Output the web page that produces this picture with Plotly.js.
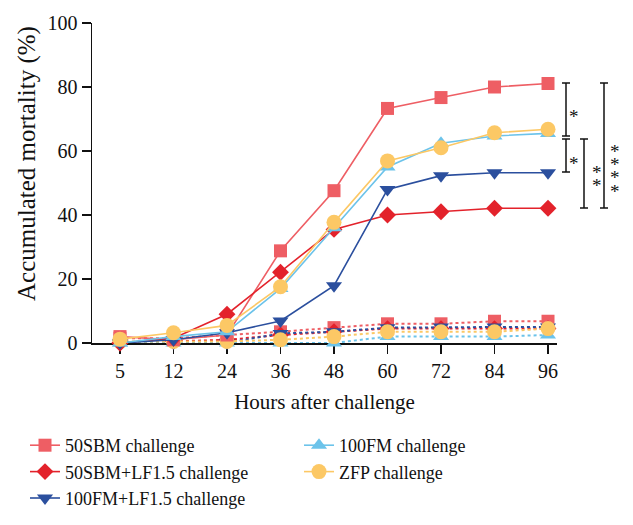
<!DOCTYPE html>
<html>
<head>
<meta charset="utf-8">
<script src="https://cdn.plot.ly/plotly-3.0.1.min.js"></script>
<style>html,body{margin:0;padding:0;background:#fff;}#chart{width:633px;height:525px;}</style>
</head>
<body>
<div id="chart"></div>
<script>
// ---- data ----
const hours = ["5","12","24","36","48","60","72","84","96"];
const seriesNames = ["50SBM challenge","50SBM+LF1.5 challenge","100FM+LF1.5 challenge","100FM challenge","ZFP challenge"];
// challenged groups (solid lines)
const sbm50_ch      = [2, 1, 2.5, 28.8, 47.6, 73.3, 76.7, 80, 81.1];
const sbm50lf_ch    = [0, 1.5, 9, 22.1, 35.5, 40, 41, 42.1, 42.1];
const fm100lf_ch    = [0, 1, 3.2, 6.9, 17.9, 48, 52.3, 53.2, 53.2];
const fm100_ch      = [0, 2, 3.5, 17, 36, 55, 62.4, 64.7, 65.5];
const zfp_ch        = [1.2, 3.2, 5.5, 17.6, 37.7, 56.9, 61, 65.7, 66.8];
// unchallenged groups (dotted lines)
const sbm50_ctrl    = [1.5, 1.5, 2.5, 3.5, 4.8, 6, 6, 6.8, 6.8];
const sbm50lf_ctrl  = [0, 0.5, 1, 2.5, 3.5, 4.5, 4.5, 4.5, 4.5];
const fm100lf_ctrl  = [0, 0, 0, 3, 3.5, 4.8, 5, 5, 5];
const fm100_ctrl    = [0, 0, 0, 0, 0, 2, 2, 2, 2.5];
const zfp_ctrl      = [0.5, 0.5, 0.5, 1, 2, 3.5, 3.5, 3.5, 4.5];
const yTicks = [0, 20, 40, 60, 80, 100];

// ---- styles ----
const colors  = ["#ee5e64", "#e3222b", "#2b4f9e", "#6cc3ea", "#fcc865"];
const symbols = ["square", "diamond", "triangle-down", "triangle-up", "circle"];
const sizes   = [13, 13, 14, 14, 15];
const legendOf = ["legend", "legend", "legend", "legend2", "legend2"];
const solid = [sbm50_ch, sbm50lf_ch, fm100lf_ch, fm100_ch, zfp_ch];
const dotted = [sbm50_ctrl, sbm50lf_ctrl, fm100lf_ctrl, fm100_ctrl, zfp_ctrl];

const FONT = "Liberation Serif, Times New Roman, serif";
const traces = [];
dotted.forEach((ys, i) => {
  traces.push({
    x: hours, y: ys, type: "scatter", mode: "lines+markers",
    showlegend: false, cliponaxis: false,
    line: {color: colors[i], width: 2, dash: "dot"},
    marker: {symbol: symbols[i], size: sizes[i], color: colors[i]}
  });
});
solid.forEach((ys, i) => {
  traces.push({
    x: hours, y: ys, type: "scatter", mode: "lines+markers",
    name: seriesNames[i], legend: legendOf[i], cliponaxis: false,
    line: {color: colors[i], width: 1.6},
    marker: {symbol: symbols[i], size: sizes[i], color: colors[i]}
  });
});

// ---- significance brackets (paper coords) ----
const L = 92, W = 465, B = 343, H = 320;
const px = p => (p - L) / W;
const py = p => (B - p) / H;
const brackets = [[566, 83, 136], [566, 139, 172], [584, 139, 208], [604, 83, 208]];
const shapes = [];
brackets.forEach(([x, y0, y1]) => {
  const ln = {color: "#111", width: 1.5};
  shapes.push({type: "line", xref: "paper", yref: "paper", x0: px(x), x1: px(x), y0: py(y0), y1: py(y1), line: ln});
  shapes.push({type: "line", xref: "paper", yref: "paper", x0: px(x - 4), x1: px(x + 4), y0: py(y0), y1: py(y0), line: ln});
  shapes.push({type: "line", xref: "paper", yref: "paper", x0: px(x - 4), x1: px(x + 4), y0: py(y1), y1: py(y1), line: ln});
});
const stars = [[574, 113], [574, 159], [597, 168], [597, 181], [615, 147], [615, 160], [615, 173], [615, 187]];
const annotations = stars.map(([x, y]) => ({
  text: "*", xref: "paper", yref: "paper", x: px(x), y: py(y + 4), showarrow: false,
  xanchor: "center", yanchor: "middle", font: {family: FONT, size: 19, color: "#111"}
}));
annotations.push({
  text: "Accumulated mortality (%)", xref: "paper", yref: "paper", x: px(27), y: py(164),
  textangle: -90, showarrow: false, xanchor: "center", yanchor: "middle",
  font: {family: FONT, size: 25, color: "#111"}
});

const legendBase = {
  orientation: "h", xref: "container", yref: "container",
  xanchor: "left", y: 1 - 427 / 525, yanchor: "top",
  entrywidth: 234, entrywidthmode: "pixels",
  font: {family: FONT, size: 18, color: "#111"}, bgcolor: "rgba(0,0,0,0)"
};

const layout = {
  width: 633, height: 525,
  margin: {l: 92, r: 76, t: 23, b: 182},
  paper_bgcolor: "#fff", plot_bgcolor: "#fff",
  font: {family: FONT, color: "#111", size: 20},
  showlegend: true,
  xaxis: {
    type: "category", range: [-0.523, 8.168], showgrid: false, zeroline: false,
    showline: true, linecolor: "#111", linewidth: 1.5, ticks: "outside", ticklen: 9, tickwidth: 1.5, tickcolor: "#111",
    layer: "below traces", tickfont: {family: FONT, size: 20},
    title: {text: "Hours after challenge", font: {family: FONT, size: 21}, standoff: 14}
  },
  yaxis: {
    range: [0, 100], tickvals: yTicks, showgrid: false, zeroline: false,
    showline: true, linecolor: "#111", linewidth: 1.5, ticks: "outside", ticklen: 9, tickwidth: 1.5, tickcolor: "#111",
    layer: "below traces", tickfont: {family: FONT, size: 20}
  },
  legend: Object.assign({}, legendBase, {x: 25 / 633}),
  legend2: Object.assign({}, legendBase, {x: 299 / 633}),
  shapes: shapes,
  annotations: annotations
};

Plotly.newPlot("chart", traces, layout, {displayModeBar: false, staticPlot: true});
</script>
</body>
</html>
